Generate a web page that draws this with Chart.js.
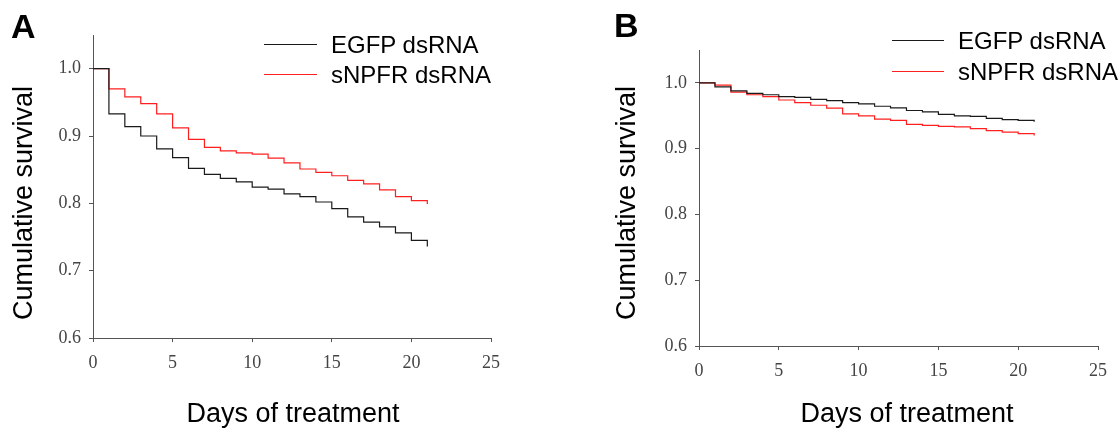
<!DOCTYPE html>
<html>
<head>
<meta charset="utf-8">
<script src="https://cdn.jsdelivr.net/npm/chart.js@4/dist/chart.umd.min.js"></script>
<style>
  html, body { margin: 0; padding: 0; background: #fff; }
  #page { position: relative; width: 1118px; height: 430px; overflow: hidden; font-family: "Liberation Sans", Arial, sans-serif; }
  .panel { position: absolute; top: 0; width: 559px; height: 430px; }
  .txt { position: absolute; line-height: 1; white-space: nowrap; color: #000; }
  .letter { font-weight: bold; font-size: 34px; }
  .xtitle { font-size: 27px; transform: translateX(-50%); }
  .ytitle { font-size: 27px; transform: translate(-50%, -50%) rotate(-90deg); }
  .leg { font-size: 24px; }
  .swatch { position: absolute; height: 0; border-top: 1.3px solid; }
</style>
</head>
<body>
<div id="page">
  <div class="panel" style="left:0"><canvas id="chartA" width="559" height="430"></canvas></div>
  <div class="panel" style="left:559px"><canvas id="chartB" width="559" height="430"></canvas></div>
</div>
<script>
// Kaplan-Meier style survival, one value per day (step drops at each day)
const days = [0, 1, 2, 3, 4, 5, 6, 7, 8, 9, 10, 11, 12, 13, 14, 15, 16, 17, 18, 19, 20, 21];

const seriesLabels = ['EGFP dsRNA', 'sNPFR dsRNA'];
const seriesColors = ['#1a1a1a', '#ff1f1f'];

// Panel A
const egfpA = [1.000, 0.933, 0.914, 0.900, 0.881, 0.868, 0.852, 0.843, 0.837, 0.832, 0.824,
               0.821, 0.814, 0.810, 0.802, 0.792, 0.780, 0.772, 0.765, 0.756, 0.745, 0.736];
const snpfrA = [1.000, 0.970, 0.958, 0.948, 0.933, 0.912, 0.895, 0.883, 0.878, 0.875, 0.873,
                0.867, 0.860, 0.851, 0.846, 0.841, 0.834, 0.829, 0.820, 0.810, 0.804, 0.799];

// Panel B
const egfpB = [1.000, 0.994, 0.988, 0.984, 0.982, 0.979, 0.978, 0.975, 0.973, 0.970, 0.968,
               0.9645, 0.962, 0.958, 0.956, 0.952, 0.950, 0.949, 0.946, 0.944, 0.943, 0.941];
const snpfrB = [1.000, 0.9965, 0.986, 0.982, 0.979, 0.974, 0.970, 0.966, 0.9615, 0.953, 0.950,
                0.945, 0.943, 0.937, 0.9355, 0.934, 0.933, 0.9305, 0.9275, 0.925, 0.923, 0.920];

const yTicks = [0.6, 0.7, 0.8, 0.9, 1.0];
const xTicks = [0, 5, 10, 15, 20, 25];
const yRange = [0.6, 1.05];
const xRange = [0, 25];

const panelLetters = ['A', 'B'];
const xTitle = 'Days of treatment';
const yTitle = 'Cumulative survival';

const axisColor = '#555';
const tickFont = { family: '"Liberation Serif", "Times New Roman", serif', size: 18 };

function makeChart(canvas, egfp, snpfr, pad) {
  const series = [egfp, snpfr];
  return new Chart(canvas, {
    type: 'line',
    data: {
      datasets: series.map((vals, k) => ({
        label: seriesLabels[k],
        data: days.map((d, i) => ({ x: d, y: vals[i] })),
        borderColor: seriesColors[k],
        borderWidth: 1.2,
        stepped: 'before',
        pointRadius: 0,
        fill: false
      }))
    },
    options: {
      responsive: false,
      animation: false,
      layout: { padding: pad },
      plugins: { legend: { display: false }, tooltip: { enabled: false } },
      scales: {
        x: {
          type: 'linear',
          min: xRange[0],
          max: xRange[1],
          afterBuildTicks: s => { s.ticks = xTicks.map(v => ({ value: v })); },
          afterFit: s => { s.height = 40; },
          grid: { display: true, drawOnChartArea: false, drawTicks: true, tickLength: 4, color: axisColor },
          border: { display: true, color: axisColor, width: 1 },
          ticks: { font: tickFont, color: '#444', padding: 10, maxRotation: 0, autoSkip: false, callback: v => String(v) }
        },
        y: {
          type: 'linear',
          min: yRange[0],
          max: yRange[1],
          afterBuildTicks: s => { s.ticks = yTicks.map(v => ({ value: v })); },
          afterFit: s => { s.width = 93; },
          grid: { display: true, drawOnChartArea: false, drawTicks: true, tickLength: 4, color: axisColor },
          border: { display: true, color: axisColor, width: 1 },
          ticks: { font: tickFont, color: '#444', padding: 8, autoSkip: false, callback: v => v.toFixed(1) }
        }
      }
    }
  });
}

makeChart(document.getElementById('chartA'), egfpA, snpfrA, { left: 0, top: 35, right: 68, bottom: 52 });
makeChart(document.getElementById('chartB'), egfpB, snpfrB, { left: 47, top: 50, right: 20, bottom: 44 });

// text overlays: panel letters, axis titles, legends
const page = document.getElementById('page');
function addText(cls, text, left, top) {
  const el = document.createElement('div');
  el.className = 'txt ' + cls;
  el.textContent = text;
  el.style.left = left + 'px';
  el.style.top = top + 'px';
  page.appendChild(el);
  return el;
}
function addSwatch(color, left, width, y) {
  const el = document.createElement('div');
  el.className = 'swatch';
  el.style.borderColor = color;
  el.style.left = left + 'px';
  el.style.width = width + 'px';
  el.style.top = (y - 0.6) + 'px';
  page.appendChild(el);
}

// panel A
addText('letter', panelLetters[0], 11, 9);
addText('ytitle', yTitle, 23, 203);
addText('xtitle', xTitle, 293, 400);
addSwatch(seriesColors[0], 264, 53, 45);
addSwatch(seriesColors[1], 264, 53, 75);
addText('leg', seriesLabels[0], 331, 33.3);
addText('leg', seriesLabels[1], 331, 63.3);

// panel B
addText('letter', panelLetters[1], 614, 8);
addText('ytitle', yTitle, 626, 203);
addText('xtitle', xTitle, 907, 400);
addSwatch(seriesColors[0], 892, 52, 41);
addSwatch(seriesColors[1], 892, 52, 71.5);
addText('leg', seriesLabels[0], 958, 29.3);
addText('leg', seriesLabels[1], 958, 60);
</script>
</body>
</html>
